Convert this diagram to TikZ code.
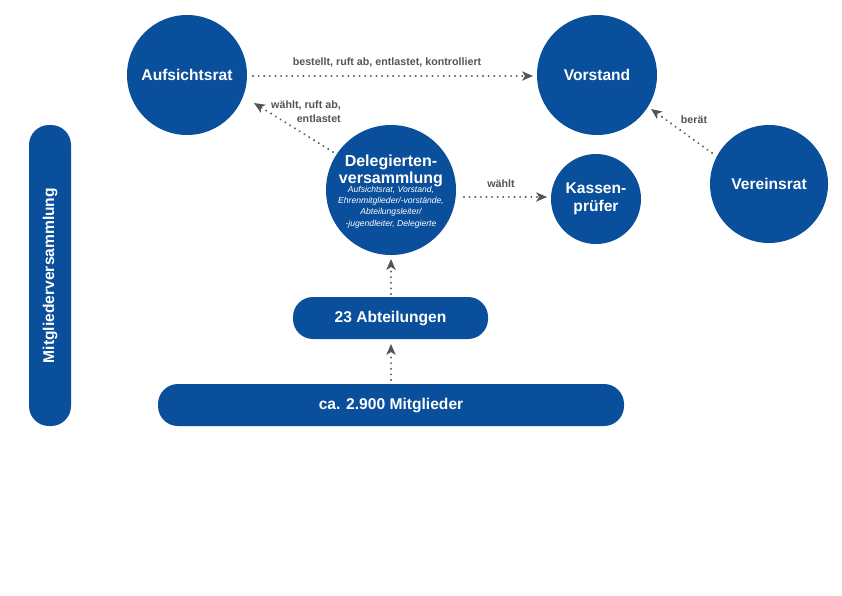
\documentclass[tikz,border=0pt]{standalone}
\usepackage{fontspec}
\setmainfont{Liberation Sans}
\usetikzlibrary{arrows.meta}
\definecolor{vblue}{HTML}{0A4F9C}
\definecolor{agrey}{HTML}{555555}
\begin{document}
\begin{tikzpicture}[x=1pt,y=-1pt,
  circ/.style={circle,fill=vblue,text=white,font=\bfseries\fontsize{15.6}{18}\selectfont,align=center,inner sep=0pt},
  bar/.style={rounded corners=20pt,fill=vblue,text=white,font=\bfseries\fontsize{15.6}{17}\selectfont,inner sep=0pt},
  conn/.style={draw=agrey,line width=2.2pt,dash pattern=on 0.01pt off 5.6pt,line cap=round,
    -{Stealth[length=11pt,width=9.5pt,inset=3pt,fill=agrey,line width=0pt]}},
  lbl/.style={text=agrey,font=\bfseries\fontsize{10.7}{14}\selectfont,align=center,inner sep=1pt}]
\useasboundingbox (0,0) rectangle (842,595);
\fill[white] (0,0) rectangle (842,595);
\node[circ,minimum size=120pt] (auf) at (187,75) {Aufsichtsrat};
\node[circ,minimum size=120pt] (vor) at (597,75) {Vorstand};
\node[circ,minimum size=118pt] (ver) at (769,184) {Vereinsrat};
\node[circ,minimum size=130pt] (del) at (391,190) {};
\node[text=white,align=center,inner sep=0pt,font=\bfseries\fontsize{16}{17}\selectfont] (deltit) at (391,171) {Delegierten-\\versammlung};
\node[text=white,align=center,inner sep=0pt,font=\itshape\fontsize{8.6}{11.3}\selectfont] (delsub) at (391,207) {Aufsichtsrat, Vorstand,\\Ehrenmitglieder/-vorstände,\\Abteilungsleiter/\\-jugendleiter, Delegierte};
\node[circ,minimum size=90pt] (kas) at (596,199) {Kassen-\\prüfer};
\node[bar,minimum width=195pt,minimum height=42pt] (abt) at (390.5,318) {23 Abteilungen};
\node[bar,minimum width=466pt,minimum height=42pt] (mit) at (391,405) {ca. 2.900 Mitglieder};
\node[bar,minimum width=301pt,minimum height=42pt,rotate=90] (mv) at (50,275.5) {Mitgliederversammlung};
\coordinate (a1) at (253,76); \coordinate (a2) at (533,76);
\draw[conn] (a1) -- (a2);
\node[lbl] (la) at (387,62) {bestellt, ruft ab, entlastet, kontrolliert};
\coordinate (b1) at (333,152); \coordinate (b2) at (254,103);
\draw[conn] (b1) -- (b2);
\node[lbl,align=right] (lb) at (306,112) {wählt, ruft ab,\\entlastet};
\coordinate (c1) at (712,153); \coordinate (c2) at (651,109);
\draw[conn] (c1) -- (c2);
\node[lbl] (lc) at (694,120) {berät};
\coordinate (d1) at (464,197); \coordinate (d2) at (547,197);
\draw[conn] (d1) -- (d2);
\node[lbl] (ld) at (501,184) {wählt};
\coordinate (e1) at (391,294); \coordinate (e2) at (391,259);
\draw[conn] (e1) -- (e2);
\coordinate (f1) at (391,380); \coordinate (f2) at (391,344);
\draw[conn] (f1) -- (f2);
\end{tikzpicture}
\end{document}
